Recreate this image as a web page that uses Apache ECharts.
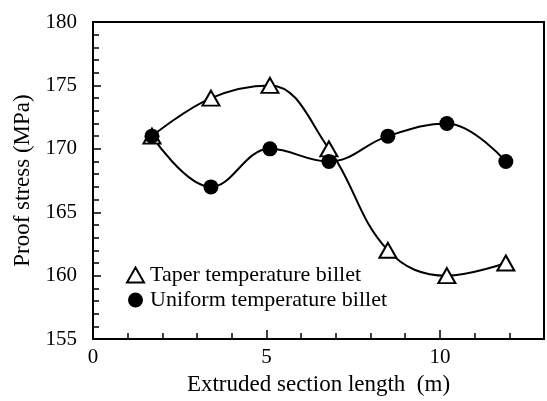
<!DOCTYPE html>
<html><head><meta charset="utf-8">
<script src="https://cdn.jsdelivr.net/npm/echarts@6/dist/echarts.min.js"></script>
<style>html,body{margin:0;padding:0;background:#fff}#c{width:547px;height:401px}</style>
</head><body><div id="c"></div>
<script>
const xValues = [1.7, 3.4, 5.1, 6.8, 8.5, 10.2, 11.9];
const taperValues = [171, 174, 175, 170, 162, 160, 161];
const uniformValues = [171, 167, 170, 169, 171, 172, 169];
const seriesNames = ['Taper temperature billet', 'Uniform temperature billet'];
const xAxisTitle = 'Extruded section length  (m)';
const yAxisTitle = 'Proof stress (MPa)';

const font = "'Liberation Serif', 'Times New Roman', serif";
const pair = (xs, ys) => xs.map((x, i) => [x, ys[i]]);

const chart = echarts.init(document.getElementById('c'), null, {renderer: 'canvas'});
chart.setOption({
  animation: false,
  backgroundColor: '#fff',
  textStyle: {fontFamily: font, color: '#000'},
  grid: {left: 93, right: 2, top: 22, bottom: 61, show: true, borderColor: '#000', borderWidth: 2, backgroundColor: 'transparent'},
  legend: {
    orient: 'vertical', left: 121, top: 259, itemWidth: 17, itemHeight: 15, itemGap: 3,
    textStyle: {fontFamily: font, fontSize: 22, color: '#000', padding: [0, 0, 0, 1]},
    data: [{name: seriesNames[0], icon: 'emptyTriangle'}, {name: seriesNames[1], icon: 'circle'}]
  },
  xAxis: [{
    type: 'value', min: 0, max: 13, interval: 1,
    name: xAxisTitle, nameLocation: 'middle', nameGap: 23,
    nameTextStyle: {fontFamily: font, fontSize: 23, color: '#000'},
    axisLine: {lineStyle: {color: '#000', width: 2}},
    axisTick: {inside: true, length: 6, lineStyle: {color: '#000', width: 1.5}},
    axisLabel: {fontFamily: font, fontSize: 21, color: '#000', margin: 8,
      formatter: v => (v % 5 === 0 ? String(v) : '')},
    splitLine: {show: false}
  }, {
    type: 'value', min: 0, max: 13, interval: 5, position: 'bottom',
    axisLine: {show: false},
    axisTick: {inside: true, length: 9, lineStyle: {color: '#000', width: 1.5}},
    axisLabel: {show: false}, splitLine: {show: false}
  }],
  yAxis: {
    type: 'value', min: 155, max: 180, interval: 5,
    name: yAxisTitle, nameLocation: 'middle', nameGap: 52,
    nameTextStyle: {fontFamily: font, fontSize: 23, color: '#000'},
    axisLine: {show: true, lineStyle: {color: '#000', width: 2}},
    axisTick: {inside: true, length: 8, lineStyle: {color: '#000', width: 1.5}},
    minorTick: {show: true, splitNumber: 5, length: 6, lineStyle: {color: '#000', width: 1.5}},
    axisLabel: {fontFamily: font, fontSize: 21, color: '#000', margin: 16},
    splitLine: {show: false}
  },
  series: [{
    name: seriesNames[0], type: 'line', smooth: 0.4,
    data: pair(xValues, taperValues),
    symbol: 'emptyTriangle', symbolSize: [17, 15],
    lineStyle: {color: '#000', width: 2},
    itemStyle: {color: '#000', borderColor: '#000', borderWidth: 2.5}
  }, {
    name: seriesNames[1], type: 'line', smooth: 0.4,
    data: pair(xValues, uniformValues),
    symbol: 'circle', symbolSize: 15,
    lineStyle: {color: '#000', width: 2},
    itemStyle: {color: '#000'}
  }]
});
</script></body></html>
